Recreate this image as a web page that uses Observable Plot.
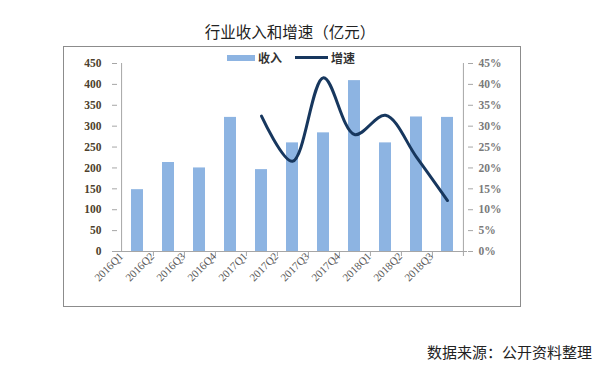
<!DOCTYPE html>
<html>
<head>
<meta charset="utf-8">
<script src="https://cdn.jsdelivr.net/npm/d3@7"></script>
<script src="https://cdn.jsdelivr.net/npm/@observablehq/plot@0.6"></script>
<style>
  html, body { margin: 0; padding: 0; background: #fff; }
  #wrap { position: relative; width: 598px; height: 374px; overflow: hidden; font-family: "Noto Sans CJK SC", sans-serif; }
  #title { position: absolute; left: 0; width: 580px; top: 20px; text-align: center; font-size: 15.5px; color: #222; }
  #box { position: absolute; left: 63px; top: 46px; width: 458px; height: 261px; border: 1px solid #8c8c8c; box-sizing: border-box; }
  #legend { position: absolute; top: 49px; left: 227px; font-size: 12px; font-weight: bold; color: #333; display: flex; align-items: center; }
  .sw-bar { display: inline-block; width: 28px; height: 6px; background: #8db4e2; margin-right: 3px; }
  .sw-line { display: inline-block; width: 33px; height: 3px; background: #17375e; margin-left: 13px; margin-right: 3px; }
  #caption { position: absolute; right: 6px; top: 341px; font-size: 15px; color: #222; }
  #chart { position: absolute; left: 0; top: 0; }
</style>
</head>
<body>
<div id="wrap">
  <div id="box"></div>
  <div id="chart"></div>
  <div id="title">行业收入和增速（亿元）</div>
  <div id="legend"><span class="sw-bar"></span><span>收入</span><span class="sw-line"></span><span>增速</span></div>
  <div id="caption">数据来源：公开资料整理</div>
</div>
<script>
const quarters = ["2016Q1","2016Q2","2016Q3","2016Q4","2017Q1","2017Q2","2017Q3","2017Q4","2018Q1","2018Q2","2018Q3"];
const revenue = [148, 213, 200, 321, 196, 260, 284, 409, 260, 322, 321];
const growthQuarters = ["2017Q1","2017Q2","2017Q3","2017Q4","2018Q1","2018Q2","2018Q3"];
const growth = [32.4, 21.6, 41.6, 28.0, 32.6, 22.6, 12.2];
const leftTicks = [0, 50, 100, 150, 200, 250, 300, 350, 400, 450];
const rightTicks = [0, 5, 10, 15, 20, 25, 30, 35, 40, 45];

const revData = quarters.map((q, i) => ({q, v: revenue[i]}));
const growthData = growthQuarters.map((q, i) => ({q, g: growth[i]}));

const W = 598, H = 374, mL = 117, mR = 131, mT = 63, mB = 123;
const step = (W - mL - mR) / quarters.length;
const axisColor = "#a6a6a6";

const chart = Plot.plot({
  width: W, height: H,
  marginLeft: mL, marginRight: mR, marginTop: mT, marginBottom: mB,
  style: {background: "transparent", overflow: "visible"},
  x: {type: "band", domain: quarters, paddingInner: 0.6, paddingOuter: 0.3, axis: null, label: null},
  y: {domain: [0, 450], axis: null, label: null},
  marks: [
    Plot.barY(revData, {x: "q", y: "v", fill: "#8db4e2"}),
    Plot.ruleY([0], {stroke: axisColor}),
    Plot.ruleX([quarters[0]], {y1: 0, y2: 450, dx: -step / 2, stroke: axisColor}),
    Plot.ruleX([quarters[quarters.length - 1]], {y1: 0, y2: 450, dx: step / 2, stroke: axisColor}),
    Plot.ruleX(quarters, {y1: 0, y2: -12, dx: step / 2, stroke: axisColor}),
    Plot.axisX({tickSize: 0, tickRotate: -45, tickPadding: 6, dx: -16, dy: -3, label: null,
      fontFamily: "Liberation Serif", fontSize: 11, color: "#595959"}),
    Plot.axisY({anchor: "left", ticks: leftTicks, tickSize: 5, tickPadding: 11, label: null,
      stroke: axisColor, fontFamily: "Liberation Serif", fontWeight: "bold", fontSize: 11.5, fill: "#4d3f2c"}),
    Plot.axisY({anchor: "right", ticks: rightTicks.map(v => v * 10), tickFormat: d => (d / 10) + "%", label: null,
      tickSize: 5, tickPadding: 6, stroke: axisColor,
      fontFamily: "Liberation Serif", fontWeight: "bold", fontSize: 11.5, fill: "#7a7a7a"}),
    Plot.line(growthData, {x: "q", y: d => d.g * 10, stroke: "#17375e", strokeWidth: 3, curve: "catmull-rom"})
  ]
});
document.getElementById("chart").appendChild(chart);
</script>
</body>
</html>
